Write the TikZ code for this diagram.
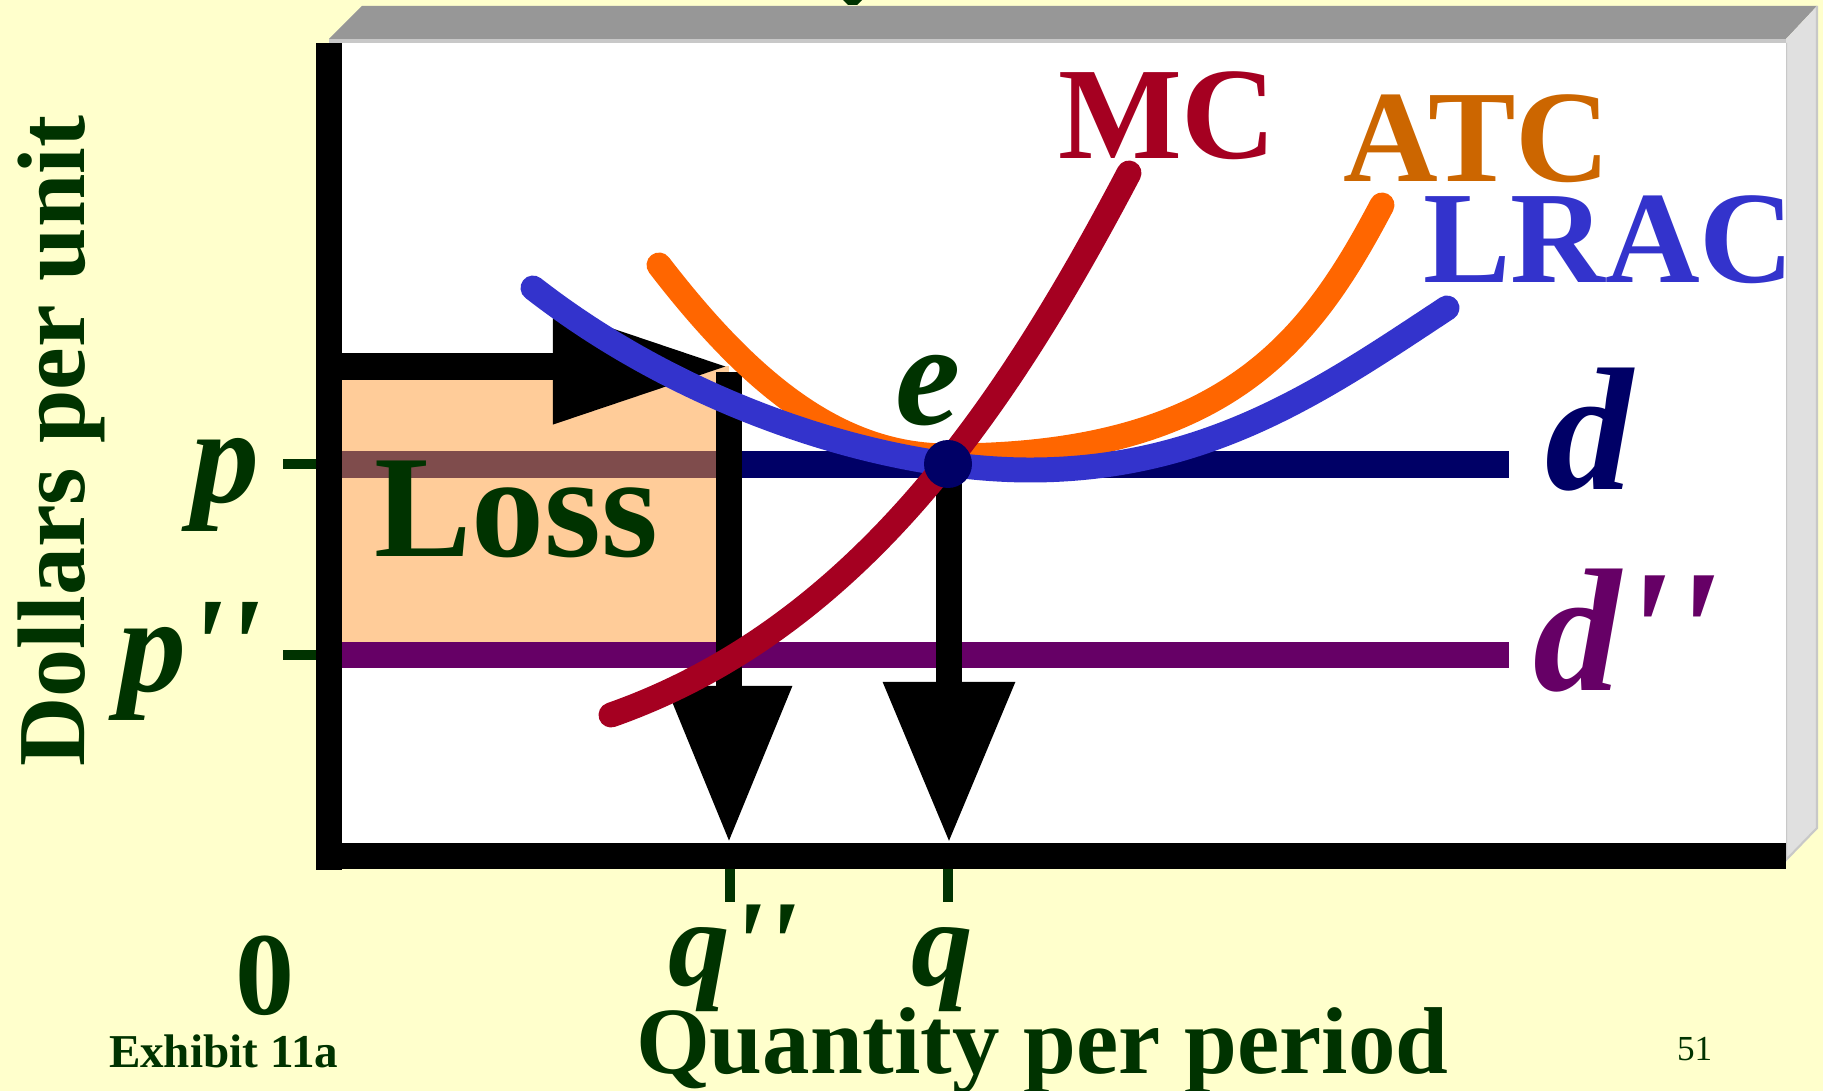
\documentclass[tikz,border=0pt]{standalone}
\usepackage{fontspec}
\setmainfont{Liberation Serif}
\newfontfamily\labfont{Liberation Serif}[Ligatures=TeXOff]
\usetikzlibrary{arrows.meta}
\definecolor{bg}{HTML}{FFFFCC}
\definecolor{topgray}{HTML}{979797}
\definecolor{strip}{HTML}{C8C8C8}
\definecolor{sidegray}{HTML}{E0E0E0}
\definecolor{dkgreen}{HTML}{003300}
\definecolor{mccol}{HTML}{A50021}
\definecolor{atccol}{HTML}{FF6600}
\definecolor{atclab}{HTML}{CC6600}
\definecolor{lraccol}{HTML}{3333CC}
\definecolor{navy}{HTML}{000066}
\definecolor{purp}{HTML}{660066}
\definecolor{peach}{HTML}{FFCC99}
\definecolor{band}{HTML}{7F4C4C}
\tikzset{
  priceline/.style={line width=7.4pt},
  curve/.style={line width=7.1pt, line cap=round},
  tick/.style={line width=2.85pt, dkgreen},
  lbl/.style={inner sep=0pt, outer sep=0pt},
  harrow/.style={line width=7.6pt, -{Triangle[length=1.76cm,width=1.08cm]}},
  varrow/.style={line width=7.4pt, -{Triangle[length=1.57cm,width=1.19cm]}},
  varrowb/.style={line width=7.4pt, -{Triangle[length=1.61cm,width=1.25cm]}},
}
\begin{document}
\begin{tikzpicture}[x=0.01cm,y=-0.01cm]
\useasboundingbox (0,0) rectangle (1823,1091);
\fill[bg] (0,0) rectangle (1823,1091);
% title fragment
\fill[dkgreen] (843,0) -- (862,0) -- (857,5) -- (848,5) -- cycle;
% 3D box
\fill[topgray] (329,39) -- (362,6) -- (1817,6) -- (1786,39) -- cycle;
\fill[strip] (329,39) rectangle (1786,43);
\fill[sidegray] (1786,39) -- (1817,6) -- (1817,828) -- (1786,860) -- cycle;
\draw[strip, line width=0.6pt] (1786,43) -- (1786,860) -- (1817,828) -- (1817,6);
\fill[white] (329,43) rectangle (1786,856);
% loss area
\fill[peach] (342,366) rectangle (729,642);
% price lines
\coordinate (pL) at (342,464.5);
\coordinate (pR) at (1509,464.5);
\coordinate (ppL) at (342,655);
\coordinate (ppR) at (1509,655);
\draw[priceline, band] (pL) -- (716,464.5);
\draw[priceline, navy] (742,464.5) -- (pR);
\draw[priceline, purp] (ppL) -- (ppR);
% arrows
\coordinate (hA) at (342,366.5);
\coordinate (hB) at (729,366.5);
\coordinate (vA) at (729,372);
\coordinate (vB) at (729,843);
\coordinate (e) at (948,464);
\coordinate (wB) at (949,843);
\draw[harrow] (hA) -- (hB);
\draw[varrow] (vA) -- (vB);
\draw[varrowb] (949,464) -- (wB);
% axes
\fill[black] (316,43) rectangle (342,870);
\fill[black] (316,843) rectangle (1786,869);
% ticks
\draw[tick] (283,464) -- (316,464);
\draw[tick] (283,655) -- (316,655);
\draw[tick] (730,869) -- (730,902);
\draw[tick] (948,869) -- (948,902);
% curves
\draw[curve, atccol] (659,265) .. controls (749,382) and (838,456) .. (948,456)
   .. controls (1228,456) and (1312,338) .. (1382,205);
\draw[curve, lraccol] (533,288) .. controls (683,405) and (880,470) .. (1030,470)
   .. controls (1210,470) and (1327,387) .. (1447,308);
\draw[curve, mccol] (611,715) .. controls (861,627) and (1009,401) .. (1129,173);
\fill[navy] (e) circle[radius=24];
% labels
\node[lbl, anchor=base west, mccol, font=\fontsize{37.3pt}{40pt}\selectfont\bfseries] (mcl) at (1058,159) {MC};
\node[lbl, anchor=base west, atclab, font=\fontsize{37.3pt}{40pt}\selectfont\bfseries] (atcl) at (1343,182) {ATC};
\node[lbl, anchor=base west, lraccol, font=\fontsize{37.3pt}{40pt}\selectfont\bfseries] (lracl) at (1423,283) {LRAC};
\node[lbl, anchor=base west, navy, font=\fontsize{49.8pt}{52pt}\selectfont\labfont\bfseries\itshape] (dl) at (1545,490) {d};
\node[lbl, anchor=base west, purp, font=\fontsize{49.8pt}{52pt}\selectfont\labfont\bfseries\itshape] (ddl) at (1533,690) {d''};
\node[lbl, anchor=base, dkgreen, font=\fontsize{41.8pt}{44pt}\selectfont\bfseries\itshape] (el) at (928,425) {e};
\node[lbl, anchor=base west, dkgreen, font=\fontsize{38.7pt}{40pt}\selectfont\labfont\bfseries\itshape] (pl) at (192,502) {p};
\node[lbl, anchor=base west, dkgreen, font=\fontsize{38.7pt}{40pt}\selectfont\labfont\bfseries\itshape] (ppl) at (118,692) {p''};
\node[lbl, anchor=base west, dkgreen, font=\fontsize{35pt}{38pt}\selectfont\labfont\bfseries\itshape] (qql) at (668,985) {q''};
\node[lbl, anchor=base west, dkgreen, font=\fontsize{35pt}{38pt}\selectfont\labfont\bfseries\itshape] (ql) at (911,985) {q};
\node[lbl, anchor=base, dkgreen, font=\fontsize{33.6pt}{36pt}\selectfont\bfseries] (zero) at (265,1014) {0};
\node[lbl, anchor=base west, dkgreen, font=\fontsize{41.5pt}{43pt}\selectfont\bfseries] (loss) at (374,557) {Loss};
\node[lbl, anchor=base, rotate=90, dkgreen, font=\fontsize{27.3pt}{30pt}\selectfont\bfseries] (ylab) at (84,441) {Dollars per unit};
\node[lbl, anchor=base west, dkgreen, font=\fontsize{27pt}{30pt}\selectfont\bfseries] (xlab) at (636,1073) {Quantity per period};
\node[lbl, anchor=base west, dkgreen, font=\fontsize{13.4pt}{15pt}\selectfont\bfseries] (exh) at (109,1067) {Exhibit 11a};
\node[lbl, anchor=base west, dkgreen, font=\fontsize{10pt}{12pt}\selectfont] (pg) at (1677,1060) {51};
\end{tikzpicture}
\end{document}
